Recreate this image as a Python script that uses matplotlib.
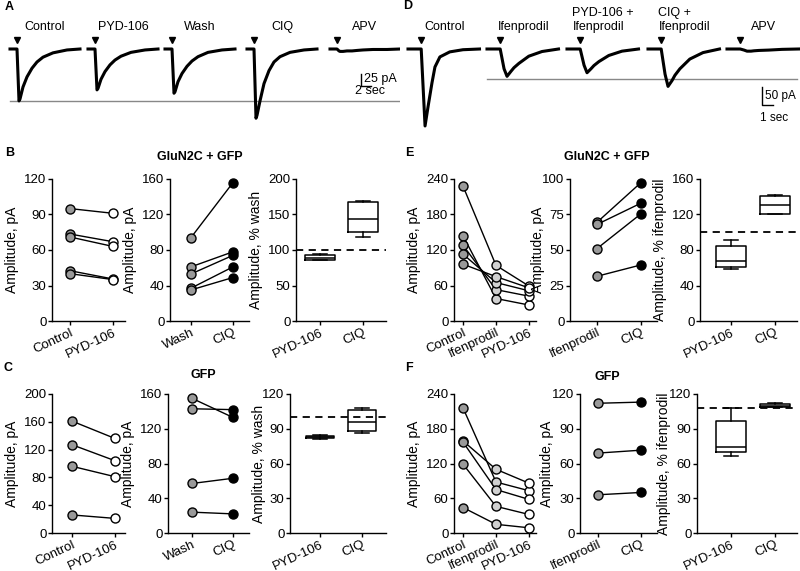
import matplotlib.pyplot as plt

plt.rcParams['font.family'] = ['Liberation Sans', 'DejaVu Sans']
plt.rcParams['axes.linewidth'] = 1.0

# ---- traces (time in s from trace start, current in pA) ----
a_t = [0, 1.4, 1.8, 2.0, 2.6, 3.4, 4.4, 5.4, 6.6, 8.6, 11.4, 14]
a_control = [0, 0, -108, -104, -79, -58, -40, -27, -17, -8, -2, 0]
a_pyd = [0, 0, -85, -82, -63, -47, -33, -23, -15, -7, -2, 0]
a_wash = [0, 0, -92, -89, -68, -51, -36, -25, -16, -7, -2, 0]
a_ciq = [0, 0, -144, -138, -108, -72, -45, -27, -16, -7, -2, 0]
a_apv = [0, 0, -4, -5, -5, -4, -4, -3, -2, -1, -1, 0]
a_names = ['Control', 'PYD-106', 'Wash', 'CIQ', 'APV']

d_t = [0, 1.2, 1.55, 1.82, 2.18, 2.45, 2.9, 3.8, 5.0, 6.5]
d_control = [0, 0, -214, -161, -94, -50, -22, -8, -2, 0]
d_ifen = [0, 0, -55, -76, -62, -52, -40, -20, -7, 0]
d_pyd_ifen = [0, 0, -45, -66, -55, -46, -35, -18, -6, 0]
d_ciq_ifen = [0, 0, -70, -104, -88, -73, -55, -28, -10, 0]
d_apv = [0, 0, -3, -6, -6, -5, -4, -3, -1, 0]
d_names = ['Control', 'Ifenprodil', 'PYD-106 +\nIfenprodil', 'CIQ +\nIfenprodil', 'APV']

# ---- summary data ----
b_control = [95, 73.5, 71, 42.5, 40]
b_pyd = [91, 67, 63, 35.5, 35]
b_wash = [94, 61, 53, 37, 35]
b_ciq = [156, 78, 74, 61, 49]
b_box_pyd = dict(whislo=85.5, q1=86.5, med=89, q3=92.5, whishi=94.5)
b_box_ciq = dict(whislo=119, q1=125, med=144, q3=167, whishi=169)

c_control = [161, 127, 96, 26]
c_pyd = [136, 104, 81, 21]
c_wash = [155, 143, 57, 24]
c_ciq = [133, 142, 63, 22]
c_box_pyd = dict(whislo=81.5, q1=82.3, med=83, q3=84, whishi=84.8)
c_box_ciq = dict(whislo=86, q1=87.8, med=96, q3=106, whishi=108)

e_control = [228, 144, 128, 113, 96]
e_ifen = [94, 38, 53, 65, 75]
e_pyd = [59, 27, 42, 51, 56]
e_ifen2 = [69.5, 68, 51, 31.5]
e_ciq2 = [97.5, 83, 75.5, 39.5]
e_box_pyd = dict(whislo=58.5, q1=61, med=68, q3=84, whishi=91)
e_box_ciq = dict(whislo=120, q1=121, med=131, q3=141, whishi=142.5)

f_control = [216, 159, 157, 119, 44]
f_ifen = [88, 110, 75, 46, 15]
f_pyd = [73, 86, 58, 32, 9]
f_ifen2 = [112, 69, 33]
f_ciq2 = [113, 71.5, 35]
f_box_pyd = dict(whislo=66.5, q1=69.5, med=74.5, q3=97, whishi=108)
f_box_ciq = dict(whislo=108.5, q1=109, med=110, q3=111, whishi=112)

DARK = '#999999'
LIGHT = '#d0d0d0'
TFS = 9.5   # tick labels
W, H = 800, 571
fig = plt.figure(figsize=(8, 5.71), dpi=100)


def px_axes(x0, y0, x1, y1):
    # box given in pixels, origin top-left
    return fig.add_axes([x0 / W, 1 - y1 / H, (x1 - x0) / W, (y1 - y0) / H])


def trace_panel(box, t, traces, names, starts, pps, ppa, base, lab_dt, stim):
    ax = px_axes(*box)
    x0, y0, x1, y1 = box
    ax.set_xlim(0, (x1 - x0) / pps)
    ax.set_ylim(-(y1 - base) * ppa, (base - y0) * ppa)
    ax.axis('off')
    for tr, nm, s in zip(traces, names, starts):
        off = (s - x0) / pps
        ax.plot([off + v for v in t], tr, color='k', lw=2.2, solid_joinstyle='round')
        ax.plot(off + stim, 9 * ppa, marker='v', color='k', ms=4.5)
        ax.text(off + lab_dt, (base - 30) * ppa, nm, ha='center', va='baseline',
                multialignment='left', fontsize=9)
    return ax


# panel A
axA = trace_panel((0, 20, 400, 125), a_t, [a_control, a_pyd, a_wash, a_ciq, a_apv],
                  a_names, [10, 88, 165, 247, 330], 5.0, 2.08, 49, 7.0, 1.4)
axA.plot([2, 80], [-108, -108], color='#888888', lw=1, zorder=0)
axA.plot([72.2, 72.2, 74.2], [-52, -77, -77], color='k', lw=1)
axA.text(72.8, -62, '25 pA', fontsize=9, va='center')
axA.text(71.0, -88, '2 sec', fontsize=9, va='center')

# panel D
axD = trace_panel((400, 20, 800, 140), d_t, [d_control, d_ifen, d_pyd_ifen, d_ciq_ifen, d_apv],
                  d_names, [408, 487, 567, 648, 727], 11.0, 2.78, 49, 3.3, 1.2)
axD.plot([7.9, 36.1], [-83, -83], color='#888888', lw=1, zorder=0)
axD.plot([32.9, 32.9, 33.9], [-106, -156, -156], color='k', lw=1)
axD.text(33.2, -130, '50 pA', fontsize=8.5, va='center')
axD.text(32.7, -192, '1 sec', fontsize=8.5, va='center')


def small_axes(spine, end, first, step, top, zero, ymax, ystep, ylabel, lab_x):
    ax = px_axes(spine, top, end, zero)
    ax.set_xlim((spine - first) / step, (end - first) / step)
    ax.set_ylim(0, ymax)
    ax.set_yticks(range(0, ymax + 1, ystep))
    ax.tick_params(labelsize=TFS, length=3, width=1, pad=1)
    ax.tick_params(axis='x', pad=1)
    for s in ['top', 'right']:
        ax.spines[s].set_visible(False)
    ax.set_ylabel(ylabel, fontsize=10)
    ax.yaxis.set_label_coords((lab_x - spine) / (end - spine), 0.5)
    return ax


def set_cats(ax, cats):
    ax.set_xticks(range(len(cats)))
    ax.set_xticklabels(cats, rotation=25, ha='right', rotation_mode='anchor', fontsize=TFS)


def series(ax, cols, fills, cats):
    for row in zip(*cols):
        ax.plot(range(len(row)), row, color='k', lw=1, zorder=2)
    for i, (col, fc) in enumerate(zip(cols, fills)):
        ax.plot([i] * len(col), col, 'o', ms=6.5, mfc=fc, mec='k', mew=1,
                ls='none', zorder=3, clip_on=False)
    set_cats(ax, cats)


def boxes(ax, stats, ref, cats):
    st = [dict(s, fliers=[]) for s in stats]
    lp = dict(color='k', lw=1.1)
    ax.bxp(st, positions=[0, 1], widths=0.68, capwidths=0.34, showfliers=False,
           boxprops=lp, whiskerprops=lp, capprops=lp, medianprops=lp)
    ax.axhline(ref, color='k', lw=1.3, ls=(0, (4, 3)), zorder=0, clip_on=False)
    set_cats(ax, cats)


top1, zero1, top2, zero2 = 179, 321, 394, 533
amp = 'Amplitude, pA'
pc = ['PYD-106', 'CIQ']

ax = small_axes(52, 125, 70, 43, top1, zero1, 120, 30, amp, 19)
series(ax, [b_control, b_pyd], [DARK, 'white'], ['Control', 'PYD-106'])
ax = small_axes(170, 249, 191, 42, top1, zero1, 160, 40, amp, 137)
series(ax, [b_wash, b_ciq], [DARK, 'k'], ['Wash', 'CIQ'])
ax = small_axes(296, 386, 320, 43, top1, zero1, 200, 50, 'Amplitude, % wash', 263)
boxes(ax, [b_box_pyd, b_box_ciq], 100, pc)

ax = small_axes(52, 125, 72, 43, top2, zero2, 200, 40, amp, 19)
series(ax, [c_control, c_pyd], [DARK, 'white'], ['Control', 'PYD-106'])
ax = small_axes(168, 249, 192, 41, top2, zero2, 160, 40, amp, 135)
series(ax, [c_wash, c_ciq], [DARK, 'k'], ['Wash', 'CIQ'])
ax = small_axes(290, 386, 320, 42, top2, zero2, 120, 30, 'Amplitude, % wash', 266)
boxes(ax, [c_box_pyd, c_box_ciq], 100, pc)

ax = small_axes(454, 536, 463, 33, top1, zero1, 240, 60, amp, 421)
series(ax, [e_control, e_ifen, e_pyd], [DARK, LIGHT, 'white'], ['Control', 'Ifenprodil', 'PYD-106'])
ax = small_axes(570, 657, 597, 44, top1, zero1, 100, 25, amp, 545)
series(ax, [e_ifen2, e_ciq2], [DARK, 'k'], ['Ifenprodil', 'CIQ'])
ax = small_axes(700, 797, 731, 44, top1, zero1, 160, 40, 'Amplitude, % ifenprodil', 667)
boxes(ax, [e_box_pyd, e_box_ciq], 100, pc)

ax = small_axes(454, 536, 463, 33, top2, zero2, 240, 60, amp, 421)
series(ax, [f_control, f_ifen, f_pyd], [DARK, LIGHT, 'white'], ['Control', 'Ifenprodil', 'PYD-106'])
ax = small_axes(580, 657, 598, 43, top2, zero2, 120, 30, amp, 554)
series(ax, [f_ifen2, f_ciq2], [DARK, 'k'], ['Ifenprodil', 'CIQ'])
ax = small_axes(697, 797, 731, 44, top2, zero2, 120, 30, 'Amplitude, % ifenprodil', 671)
boxes(ax, [f_box_pyd, f_box_ciq], 108, pc)

# panel letters and titles
for letter, x, y in [('A', 5, 7), ('B', 5, 153), ('C', 4, 368),
                     ('D', 403, 6), ('E', 405, 153), ('F', 405, 368)]:
    fig.text(x / W, 1 - y / H, letter, fontsize=9, fontweight='bold', va='center')
for title, x, y in [('GluN2C + GFP', 200, 157), ('GFP', 203, 375),
                    ('GluN2C + GFP', 607, 157), ('GFP', 607, 377)]:
    fig.text(x / W, 1 - y / H, title, fontsize=9, fontweight='bold', ha='center', va='center')

fig.savefig('out.png', dpi=100)
plt.close(fig)
